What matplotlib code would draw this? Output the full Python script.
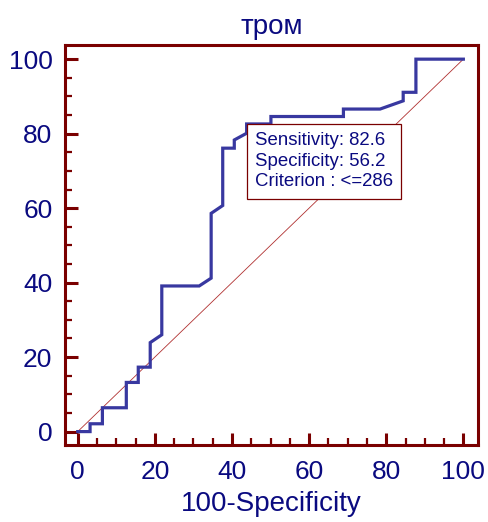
import matplotlib
matplotlib.use("Agg")
import matplotlib.pyplot as plt
from matplotlib.ticker import MultipleLocator

plt.rcParams['font.family'] = ['Liberation Sans', 'DejaVu Sans']

# ROC curve vertices (100-Specificity, Sensitivity)
fpr = [0, 3.2, 3.2, 6.4, 6.4, 12.6, 12.6, 15.7, 15.7, 18.8, 18.8, 21.8, 21.8,
       31.5, 34.6, 34.6, 37.6, 37.6, 40.6, 40.6, 43.8, 43.8, 50.1, 50.1,
       68.9, 68.9, 78.4, 84.4, 84.4, 87.7, 87.7, 100]
tpr = [0, 0, 2.1, 2.1, 6.4, 6.4, 13.2, 13.2, 17.3, 17.3, 23.9, 26.0, 39.1,
       39.1, 41.2, 58.6, 60.7, 76.1, 76.1, 78.3, 80.1, 82.6, 82.6, 84.6,
       84.6, 86.6, 86.6, 88.8, 91.1, 91.1, 100, 100]
ref_line = [0, 100]
op_x, op_y = 43.8, 82.6
box_lines = ["Sensitivity: 82.6", "Specificity: 56.2", "Criterion : <=286"]
title = "тром"
xlabel = "100-Specificity"

navy = "#0a0a80"
dark_red = "#7a0000"
curve_col = "#3838a0"

fig = plt.figure(figsize=(4.88, 5.22), dpi=100)
ax = fig.add_axes([65/488, 1-445/522, (478-65)/488, (445-45)/522])

ax.plot(ref_line, ref_line, color="#b03030", lw=0.6, zorder=1)
ax.plot(fpr, tpr, color=curve_col, lw=2.3, solid_joinstyle='miter', zorder=2)

ax.set_xlim(-3.3, 103.8)
ax.set_ylim(-3.6, 103.8)

for s in ax.spines.values():
    s.set_color(dark_red)
    s.set_linewidth(2.2)

ax.xaxis.set_major_locator(MultipleLocator(20))
ax.xaxis.set_minor_locator(MultipleLocator(5))
ax.yaxis.set_major_locator(MultipleLocator(20))
ax.yaxis.set_minor_locator(MultipleLocator(5))
ax.tick_params(which='major', direction='in', length=9, width=2.2, color=dark_red,
               labelsize=19, labelcolor=navy, pad=11)
ax.tick_params(which='minor', direction='in', length=5, width=1.6, color=dark_red)
ax.tick_params(axis='x', which='both', top=False)
ax.tick_params(axis='y', which='both', right=False)
ax.tick_params(axis='y', which='major', pad=9)

ax.set_title(title, fontsize=20, color=navy, pad=8)
ax.set_xlabel(xlabel, fontsize=20, color=navy, labelpad=5)

pad_pt = 6.0
ax.annotate("\n".join(box_lines), xy=(op_x, op_y), xytext=(pad_pt, -pad_pt),
            textcoords='offset points', fontsize=13.4, color=navy,
            va='top', ha='left', linespacing=1.27, zorder=3,
            bbox=dict(boxstyle='square,pad=0.45', facecolor='white',
                      edgecolor=dark_red, linewidth=0.9))

fig.savefig("out.png", dpi=100)
